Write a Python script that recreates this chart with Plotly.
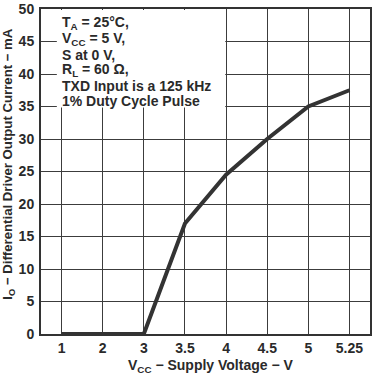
import plotly.graph_objects as go

# ---- data ----
vcc_labels = ["1", "2", "3", "3.5", "4", "4.5", "5", "5.25"]
io_ma = [0, 0, 0, 17, 24.5, 30, 35, 37.5]
y_ticks = [0, 5, 10, 15, 20, 25, 30, 35, 40, 45, 50]
note_lines = [
    "T<sub>A</sub> = 25°C,",
    "V<sub>CC</sub> = 5 V,",
    "S at 0 V,",
    "R<sub>L</sub> = 60 Ω,",
    "TXD Input is a 125 kHz",
    "1% Duty Cycle Pulse",
]

W, H = 373, 375
ML, MR, MT, MB = 41, 1, 3, 41
PW = W - ML - MR
PH = H - MT - MB


def py2paper(py):
    return 1 - (py - MT) / PH


def px2paper(px):
    return (px - ML) / PW


FONT = dict(family="Liberation Sans, Arial, sans-serif", size=14, color="#2a2a2a", weight="bold")
GRID = "#3c3c3c"

x_idx = list(range(len(vcc_labels)))

fig = go.Figure(
    go.Scatter(x=x_idx, y=io_ma, mode="lines",
               line=dict(color="#333333", width=4), hoverinfo="skip")
)

fig.update_layout(
    width=W, height=H,
    margin=dict(l=ML, r=MR, t=MT, b=MB),
    paper_bgcolor="white", plot_bgcolor="white",
    showlegend=False, font=FONT,
)

fig.update_xaxes(
    range=[-0.5, 7.5], tickvals=x_idx, ticktext=vcc_labels,
    showgrid=True, gridcolor=GRID, gridwidth=1,
    showline=True, linecolor="#333333", linewidth=2, mirror=True,
    ticks="", zeroline=False, ticklabeloverflow="allow",
)
fig.update_yaxes(
    range=[0, 50], tickvals=y_ticks,
    showgrid=True, gridcolor=GRID, gridwidth=1,
    showline=True, linecolor="#333333", linewidth=2, mirror=True,
    ticks="", zeroline=False, ticklabelstandoff=2, ticklabeloverflow="allow",
)

# white box behind the conditions text (hides the grid)
fig.add_shape(type="rect", xref="x", yref="y", x0=-0.115, x1=3.98, y0=34.85, y1=49.85,
              fillcolor="white", line=dict(width=0), layer="between")

for i, t in enumerate(note_lines):
    fig.add_annotation(text=t, xref="x", yref="paper", x=-0.04, y=py2paper(17.7 + 15.9 * i),
                       xanchor="left", yanchor="middle", showarrow=False, font=FONT)

# x axis title
fig.add_annotation(text="V<sub>CC</sub> − Supply Voltage − V",
                   xref="paper", yref="paper", x=px2paper(212), y=py2paper(367),
                   xanchor="center", yanchor="middle", showarrow=False, font=FONT)

# y axis title
fig.add_annotation(text="I<sub>O</sub> − Differential Driver Output Current − mA",
                   textangle=-90, xref="paper", yref="paper", x=0, xshift=-32,
                   y=py2paper(161.5), xanchor="center", yanchor="middle",
                   showarrow=False, font=dict(FONT, size=13.2))

fig.write_html(
    "out.html",
    config={"displayModeBar": False},
    post_script="document.body.style.margin='0';document.body.style.overflow='hidden';",
)
